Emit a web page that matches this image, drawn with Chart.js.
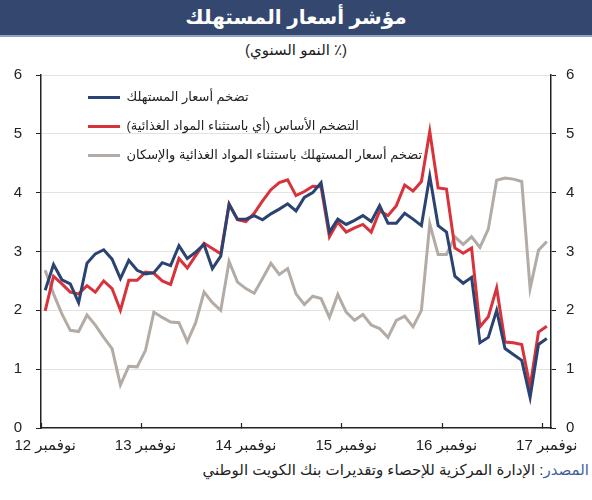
<!DOCTYPE html>
<html lang="ar">
<head>
<meta charset="utf-8">
<script src="https://cdn.jsdelivr.net/npm/chart.js@4/dist/chart.umd.min.js"></script>
<style>
  body { margin: 0; width: 592px; height: 500px; background: #fff; position: relative; overflow: hidden;
         font-family: "Liberation Sans", "DejaVu Sans", sans-serif; color: #222; }
  .title { position: absolute; left: 0; top: 0; width: 592px; height: 35px; line-height: 35px;
           background: #34476f; border-bottom: 2px solid #8ea3c4; color: #fff;
           font-weight: bold; font-size: 20px; text-align: center; direction: rtl; }
  .subtitle { position: absolute; left: 0; top: 41px; width: 592px; text-align: center;
              font-size: 15px; line-height: 18px; direction: rtl; }
  #wrap { position: absolute; left: 0; top: 52px; width: 592px; height: 408px; }
  .source { position: absolute; right: 3px; top: 460px; font-size: 15px; line-height: 20px; direction: rtl; }
  .source span { color: #3f5f9f; }
</style>
</head>
<body>
<div class="title">مؤشر أسعار المستهلك</div>
<div class="subtitle">(٪ النمو السنوي)</div>
<div id="wrap"><canvas id="cpi"></canvas></div>
<div class="source"><span>المصدر</span>: الإدارة المركزية للإحصاء وتقديرات بنك الكويت الوطني</div>

<script>
// monthly, Nov 2012 -> Nov 2017 (61 points), % y/y
const tickLabels = ['نوفمبر 12', 'نوفمبر 13', 'نوفمبر 14', 'نوفمبر 15', 'نوفمبر 16', 'نوفمبر 17'];
const seriesNames = [
  'تضخم أسعار المستهلك',
  'التضخم الأساس (أي باستثناء المواد الغذائية)',
  'تضخم أسعار المستهلك باستثناء المواد الغذائية والإسكان'
];

const headline = [
  2.34, 2.78, 2.52, 2.45, 2.13, 2.80, 2.96, 3.03, 2.87, 2.54, 2.85, 2.68,
  2.62, 2.64, 2.81, 2.76, 3.10, 2.88, 2.99, 3.12, 2.71, 2.92, 3.80, 3.55,
  3.55, 3.61, 3.54, 3.64, 3.72, 3.81, 3.69, 3.92, 4.00, 4.17, 3.33, 3.55,
  3.46, 3.53, 3.61, 3.51, 3.78, 3.48, 3.48, 3.65, 3.55, 3.44, 4.28, 3.44,
  3.33, 2.58, 2.46, 2.56, 1.45, 1.54, 2.00, 1.35, 1.25, 1.15, 0.52, 1.42,
  1.52
];
const core = [
  1.99, 2.58, 2.45, 2.31, 2.28, 2.42, 2.31, 2.50, 2.37, 2.00, 2.51, 2.51,
  2.65, 2.63, 2.50, 2.44, 2.88, 2.72, 2.93, 3.14, 3.05, 2.96, 3.81, 3.54,
  3.51, 3.65, 3.86, 4.05, 4.17, 4.22, 3.95, 4.02, 4.11, 4.10, 3.25, 3.50,
  3.33, 3.40, 3.46, 3.33, 3.69, 3.61, 3.78, 4.13, 4.03, 4.19, 5.04, 4.08,
  4.06, 3.06, 2.97, 3.06, 1.72, 1.89, 2.38, 1.46, 1.45, 1.42, 0.70, 1.63,
  1.73
];
const exFoodHousing = [
  2.68, 2.28, 1.94, 1.66, 1.64, 1.92, 1.75, 1.54, 1.35, 0.73, 1.05, 1.04,
  1.32, 1.97, 1.88, 1.80, 1.79, 1.47, 1.79, 2.31, 2.13, 2.00, 2.83, 2.48,
  2.37, 2.29, 2.54, 2.80, 2.61, 2.71, 2.28, 2.10, 2.24, 2.20, 1.88, 2.27,
  1.97, 1.83, 1.93, 1.75, 1.69, 1.54, 1.83, 1.90, 1.72, 2.00, 3.47, 2.95,
  2.95, 3.25, 3.12, 3.25, 3.07, 3.38, 4.21, 4.25, 4.23, 4.19, 2.37, 3.02,
  3.17
];

// one label per November, blanks in between
const labels = headline.map((_, i) => (i % 12 === 0 ? tickLabels[i / 12] : ''));

Chart.defaults.font.family = "'Liberation Sans', 'DejaVu Sans', sans-serif";
Chart.defaults.color = '#222';

// legend sits inside the plot, pushed right a bit like the original
const legendShift = {
  id: 'legendShift',
  afterLayout(chart) {
    chart.legend.left = chart.chartArea.left + 31;
    chart.legend.top = chart.chartArea.top;
  }
};

const line = (label, data, color) => ({
  label, data,
  borderColor: color, backgroundColor: color,
  borderWidth: 3, pointRadius: 0, tension: 0, fill: false
});

new Chart(document.getElementById('cpi'), {
  type: 'line',
  data: {
    labels,
    datasets: [
      line(seriesNames[0], headline, '#2b4373'),
      line(seriesNames[1], core, '#d8323b'),
      line(seriesNames[2], exFoodHousing, '#b3aca6'),
    ],
  },
  plugins: [legendShift],
  options: {
    responsive: true,
    maintainAspectRatio: false,
    animation: false,
    layout: { padding: { top: 6, left: 0, right: 0, bottom: 0 } },
    plugins: {
      tooltip: { enabled: false },
      legend: {
        position: 'chartArea',
        align: 'start',
        textDirection: 'rtl',
        labels: {
          usePointStyle: true,
          pointStyle: 'line',
          pointStyleWidth: 32,
          padding: 16,
          font: { size: 13 },
          color: '#222',
        },
      },
    },
    scales: {
      x: {
        offset: true,
        grid: {
          offset: true,
          drawOnChartArea: false,
          tickLength: -5,
          tickWidth: 1.2,
          tickColor: (ctx) => (ctx.index !== undefined && ctx.index % 12 === 0 ? '#222' : 'transparent'),
        },
        border: { color: '#222', width: 1.5 },
        ticks: { autoSkip: false, maxRotation: 0, padding: 14, font: { size: 15 } },
        afterFit: (s) => { s.height = 32; },
      },
      y: {
        position: 'left',
        min: 0, max: 6,
        ticks: { stepSize: 1, padding: 14, font: { size: 15 } },
        grid: {
          color: (ctx) => (ctx.tick && ctx.tick.value === 0 ? 'transparent' : '#e5e1dd'),
          tickColor: '#222',
          tickLength: 5,
        },
        border: { color: '#222', width: 1.5 },
        afterFit: (s) => { s.width = 41; },
      },
      y2: {
        position: 'right',
        min: 0, max: 6,
        ticks: { stepSize: 1, padding: 10, font: { size: 15 } },
        grid: { drawOnChartArea: false, tickColor: '#222', tickLength: 5 },
        border: { color: '#222', width: 1.5 },
        afterFit: (s) => { s.width = 41; },
      },
    },
  },
});
</script>
</body>
</html>
